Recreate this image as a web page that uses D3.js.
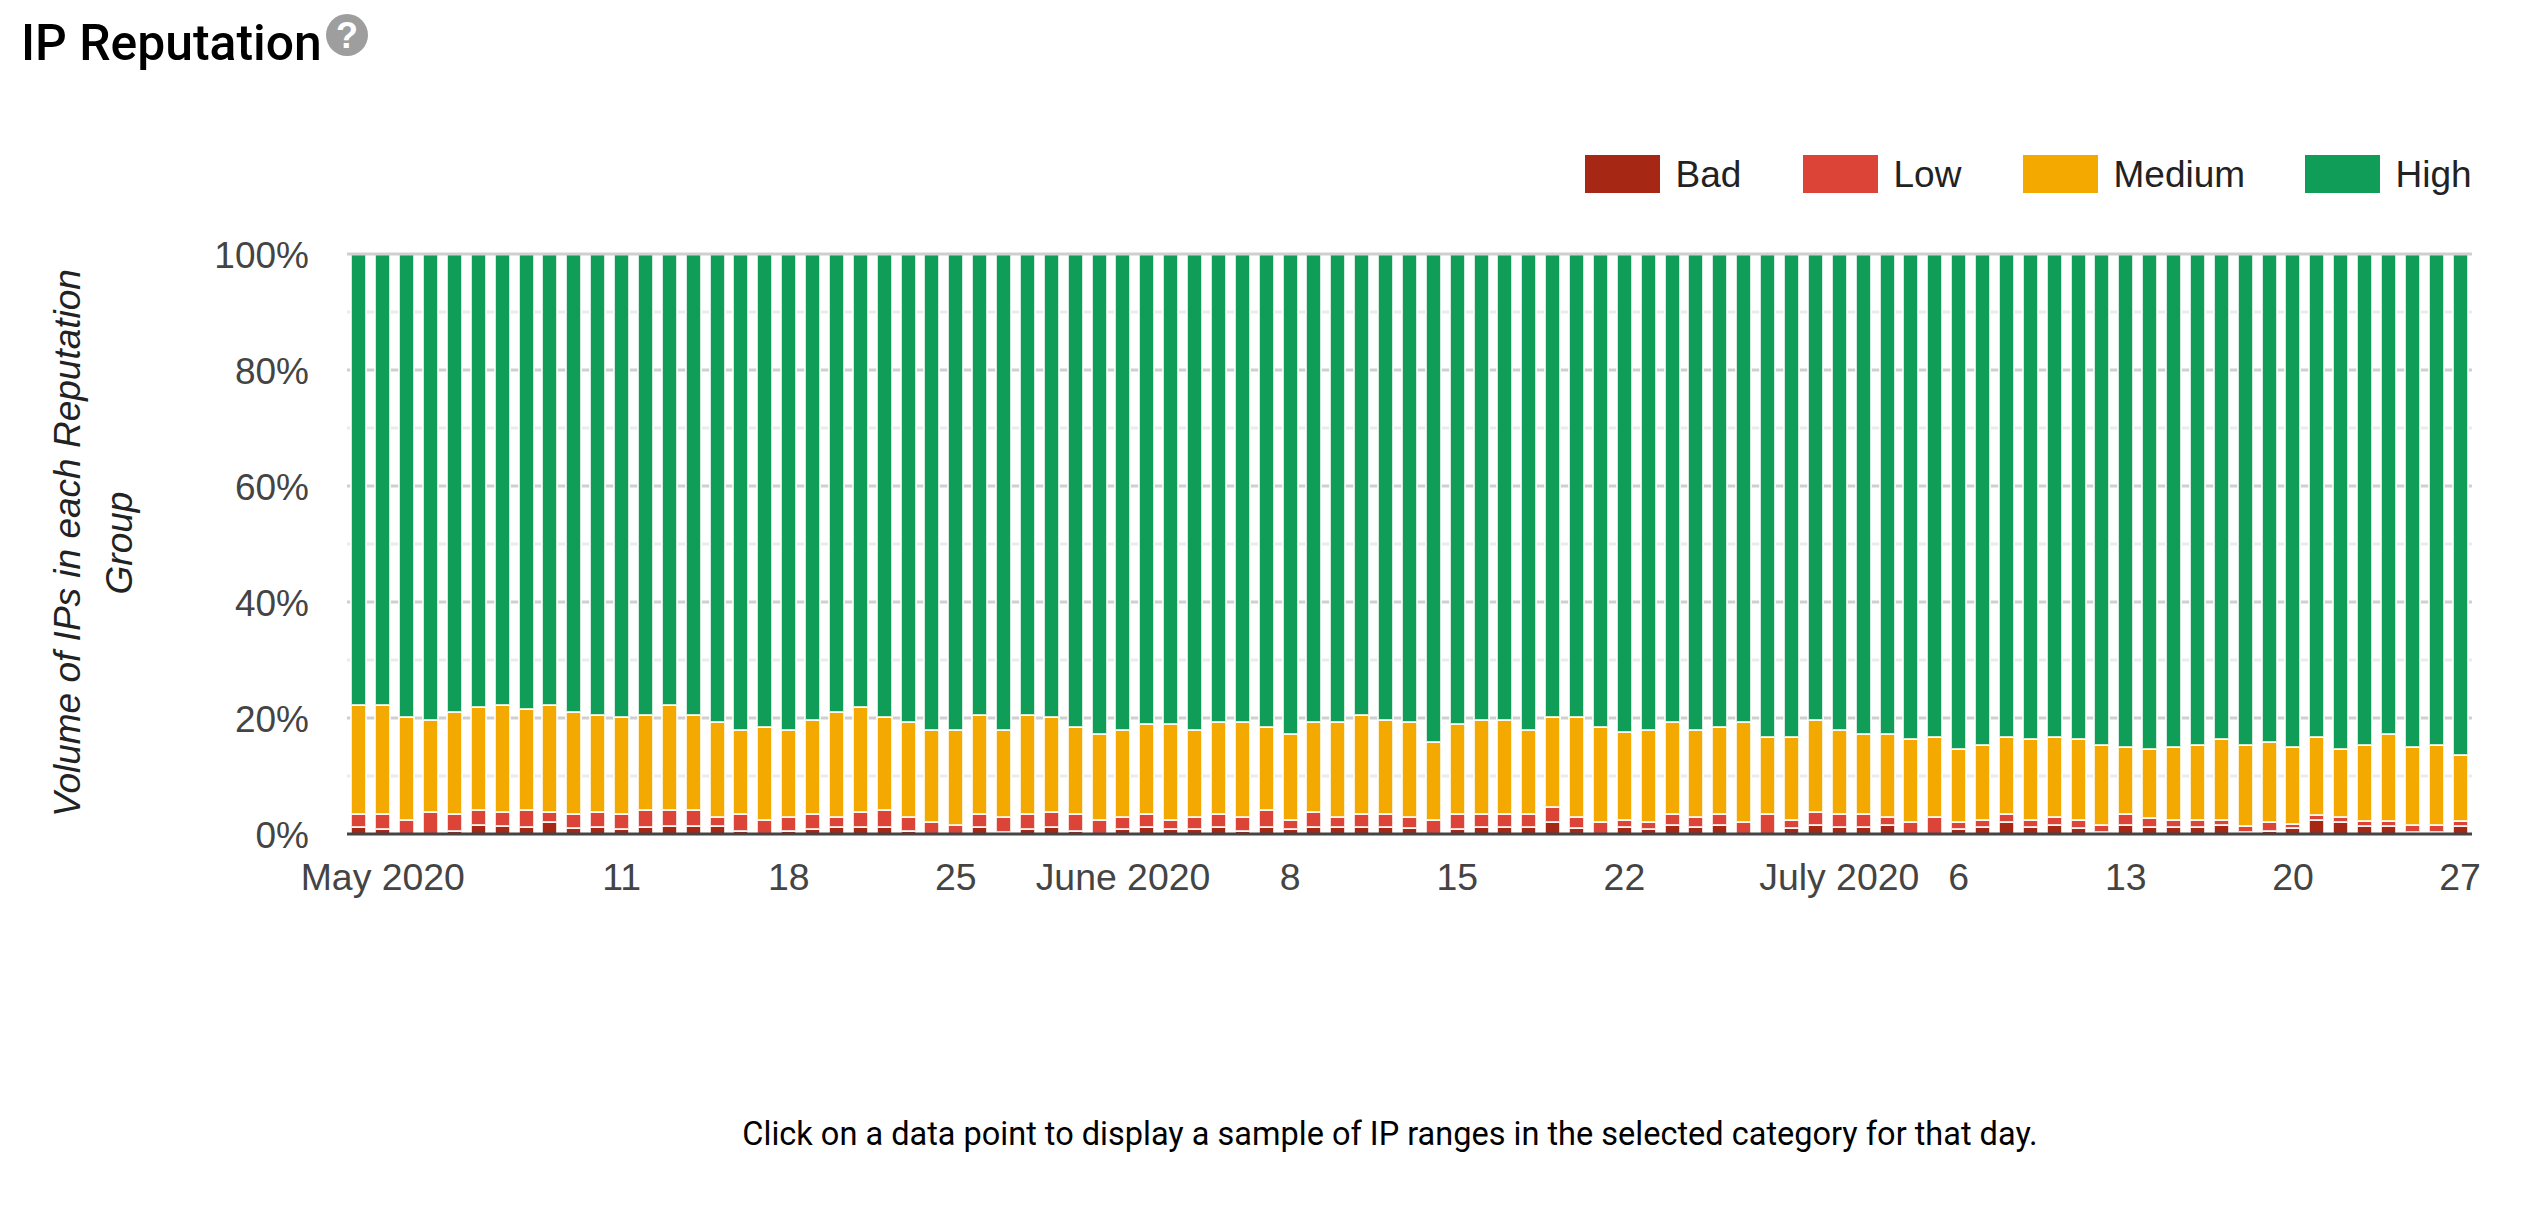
<!DOCTYPE html>
<html>
<head>
<meta charset="utf-8">
<script src="https://cdn.jsdelivr.net/npm/d3@7"></script>
<style>
html,body{margin:0;padding:0;background:#fff;overflow:hidden}
svg{display:block}
</style>
</head>
<body>
<script>
const seriesNames = ["Bad","Low","Medium","High"];
const seriesColors = ["#a52714","#db4437","#f4a900","#0f9d58"];
const firstDay = new Date(2020,3,30);
const bad = [1.2,.8,0,0,.5,1.6,1.3,1.2,2.0,1.0,1.2,.8,1.2,1.3,1.3,1.3,.5,0,.5,.8,
 1.2,1.2,1.2,.5,0,0,1.2,.4,.8,1.2,.5,0,.8,1.2,.8,.8,1.2,.5,1.2,.8,1.2,
 1.2,1.2,1.2,1.0,0,.8,1.2,1.2,1.2,2.0,1.0,0,1.2,.8,1.6,1.2,1.6,0,0,1.0,1.6,
 1.2,1.2,1.6,0,0,.8,1.2,2.0,1.2,1.6,1.0,.4,1.6,1.2,1.2,1.2,1.6,.4,.6,1.1,2.5,
 2.0,1.3,1.3,.4,.4,1.3];
const low = [2.2,2.6,2.5,3.8,2.9,2.6,2.5,3.0,1.8,2.4,2.6,2.6,3.0,2.9,2.9,1.7,2.9,2.5,2.5,2.6,
 1.8,2.6,3.0,2.5,2.1,1.6,2.2,2.6,2.6,2.6,2.9,2.5,2.2,2.2,1.7,2.2,2.2,2.5,3.0,1.7,2.6,
 1.8,2.2,2.2,2.0,2.5,2.6,2.2,2.2,2.2,2.7,2.0,2.1,1.3,1.3,1.8,1.8,1.8,2.1,3.4,1.5,2.2,
 2.2,2.2,1.4,2.1,3.0,1.3,1.3,1.4,1.3,1.4,1.5,1.1,1.8,1.5,1.3,1.3,.9,1.0,1.5,.7,.7,
 .9,.9,.9,1.1,1.1,.9];
const medium = [18.9,18.9,17.7,15.9,17.7,17.7,18.5,17.3,18.5,17.7,16.8,16.8,16.4,18.1,16.4,16.3,14.6,16.0,15.0,16.3,
 18.1,18.1,16.0,16.3,15.9,16.4,17.2,15.0,17.2,16.4,15.1,14.7,15.0,15.5,16.4,15.0,15.9,16.3,14.3,14.7,15.5,
 16.3,17.2,16.3,16.3,13.4,15.5,16.3,16.3,14.6,15.5,17.2,16.4,15.1,15.9,15.9,15.0,15.1,17.2,13.4,14.3,15.9,
 14.6,13.8,14.2,14.2,13.8,12.5,12.9,13.4,13.8,13.8,13.8,13.9,11.6,11.9,12.5,12.9,13.8,14.0,13.8,13.2,13.6,
 11.7,13.2,15.0,13.5,13.9,11.5];
const high = [77.7,77.7,79.8,80.3,78.9,78.1,77.7,78.5,77.7,78.9,79.4,79.8,79.4,77.7,79.4,80.7,82.0,81.5,82.0,80.3,
 78.9,78.1,79.8,80.7,82.0,82.0,79.4,82.0,79.4,79.8,81.5,82.8,82.0,81.1,81.1,82.0,80.7,80.7,81.5,82.8,80.7,
 80.7,79.4,80.3,80.7,84.1,81.1,80.3,80.3,82.0,79.8,79.8,81.5,82.4,82.0,80.7,82.0,81.5,80.7,83.2,83.2,80.3,
 82.0,82.8,82.8,83.7,83.2,85.4,84.6,83.2,83.7,83.2,83.7,84.6,85.0,85.4,85.0,84.6,83.7,84.6,84.1,85.0,83.2,
 85.4,84.6,82.8,85.0,84.6,86.3];
const yTicks = [0,20,40,60,80,100];
const yMinorTicks = [10,30,50,70,90];
const xTickLabels = [["2020-05-01","May 2020"],["2020-05-11","11"],["2020-05-18","18"],["2020-05-25","25"],
 ["2020-06-01","June 2020"],["2020-06-08","8"],["2020-06-15","15"],["2020-06-22","22"],
 ["2020-07-01","July 2020"],["2020-07-06","6"],["2020-07-13","13"],["2020-07-20","20"],["2020-07-27","27"]];

const W=2533,H=1209;
const svg=d3.select("body").append("svg").attr("width",W).attr("height",H);
const sans="'Liberation Sans',Arial,sans-serif";
const iso=d3.timeFormat("%Y-%m-%d");
const days=high.map((_,i)=>iso(d3.timeDay.offset(firstDay,i)));
const rows=days.map((d,i)=>({day:d,Bad:bad[i],Low:low[i],Medium:medium[i],High:high[i]}));

const L=347,R=2472,T=254,B=834;
const x=d3.scaleBand().domain(days).range([L,R]).paddingInner(.37).paddingOuter(.185);
const y=d3.scaleLinear().domain([0,100]).range([B,T]);
const color=d3.scaleOrdinal(seriesNames,seriesColors);

// gridlines
svg.append("g").selectAll("line").data(yMinorTicks).join("line")
 .attr("x1",L).attr("x2",R).attr("y1",d=>y(d)).attr("y2",d=>y(d))
 .attr("stroke","#ebebeb").attr("stroke-width",3);
svg.append("g").selectAll("line").data(yTicks.filter(d=>d>0&&d<100)).join("line")
 .attr("x1",L).attr("x2",R).attr("y1",d=>y(d)).attr("y2",d=>y(d))
 .attr("stroke","#cfcfcf").attr("stroke-width",3);
svg.append("g").selectAll("line").data(xTickLabels.map(d=>d[0])).join("line")
 .attr("x1",d=>x(d)+x.bandwidth()/2).attr("x2",d=>x(d)+x.bandwidth()/2).attr("y1",T).attr("y2",B)
 .attr("stroke","#e0e0e0").attr("stroke-width",3);

// stacked bars
const stack=d3.stack().keys(seriesNames)(rows);
svg.append("g").selectAll("g").data(stack).join("g")
 .attr("fill",s=>color(s.key))
 .selectAll("rect").data(s=>s.filter(d=>d[1]-d[0]>0)).join("rect")
 .attr("x",d=>Math.round(x(d.data.day)))
 .attr("width",Math.round(x.bandwidth()))
 .attr("y",d=>Math.round(y(d[1])))
 .attr("height",d=>Math.round(y(d[0]))-Math.round(y(d[1])))
 .attr("stroke","#fff").attr("stroke-opacity",.8).attr("stroke-width",2);

// top line and axes
svg.append("line").attr("x1",L).attr("x2",R).attr("y1",y(100)).attr("y2",y(100))
 .attr("stroke","#cfcfcf").attr("stroke-width",3);

const xAxis=d3.axisBottom(x).tickValues(xTickLabels.map(d=>d[0]))
 .tickFormat(d=>new Map(xTickLabels).get(d)).tickSize(0).tickPadding(0);
const gx=svg.append("g").attr("transform",`translate(0,${B})`).call(xAxis);
gx.select(".domain").attr("d",`M${L},0H${R}`).attr("stroke","#444").attr("stroke-width",3);
gx.selectAll("text").attr("font-family",sans).attr("font-size",37.4).attr("fill","#444")
 .attr("dy",0).attr("y",56);

const yAxis=d3.axisLeft(y).tickValues(yTicks).tickFormat(d=>d+"%").tickSize(0).tickPadding(0);
const gy=svg.append("g").attr("transform","translate(309,0)").call(yAxis);
gy.select(".domain").remove();
gy.selectAll("text").attr("font-family",sans).attr("font-size",37).attr("fill","#444")
 .attr("dy",0).attr("y",13);

// y title
const yt=svg.append("text").attr("transform","translate(0,543) rotate(-90)")
 .attr("text-anchor","middle").attr("font-family",sans).attr("font-style","italic")
 .attr("font-size",37).attr("fill","#222");
yt.append("tspan").attr("x",0).attr("y",80).text("Volume of IPs in each Reputation");
yt.append("tspan").attr("x",0).attr("y",132).text("Group");

// legend
const legendX=[1585,1803,2023,2305];
const lg=svg.append("g").selectAll("g").data(seriesNames).join("g")
 .attr("transform",(d,i)=>`translate(${legendX[i]},155)`);
lg.append("rect").attr("width",75).attr("height",38).attr("fill",d=>color(d));
lg.append("text").attr("x",90.5).attr("y",32).attr("font-family",sans).attr("font-size",37)
 .attr("fill","#222").text(d=>d);

// title + help icon
svg.append("text").attr("x",21).attr("y",60).attr("font-family","Roboto").attr("font-weight",500)
 .attr("font-size",49.8).attr("fill","#000").text("IP Reputation");
svg.append("circle").attr("cx",347).attr("cy",35).attr("r",21).attr("fill","#9e9e9e");
svg.append("text").attr("x",347).attr("y",48).attr("text-anchor","middle").attr("font-family",sans)
 .attr("font-weight",700).attr("font-size",36).attr("fill","#fff").text("?");

// footer
svg.append("text").attr("x",1390).attr("y",1145).attr("text-anchor","middle").attr("font-family","Roboto")
 .attr("font-size",32.5).attr("fill","#000")
 .text("Click on a data point to display a sample of IP ranges in the selected category for that day.");
</script>
</body>
</html>
